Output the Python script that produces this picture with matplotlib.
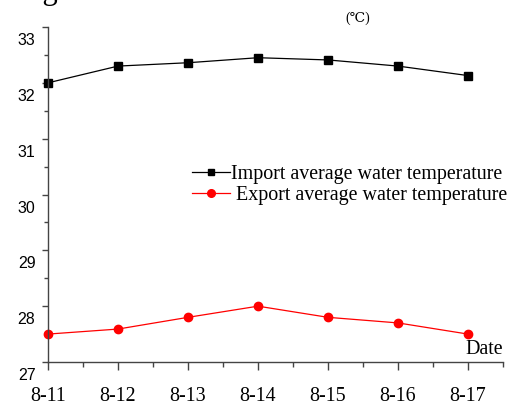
import numpy as np
import matplotlib.pyplot as plt
from matplotlib.transforms import ScaledTranslation
from matplotlib.ticker import MultipleLocator
from matplotlib.lines import Line2D

dates = ["8-11", "8-12", "8-13", "8-14", "8-15", "8-16", "8-17"]
import_temp = [32.0, 32.3, 32.36, 32.45, 32.41, 32.3, 32.13]
export_temp = [27.5, 27.59, 27.8, 28.0, 27.8, 27.7, 27.5]
y_ticks = [27, 28, 29, 30, 31, 32, 33]

serif = ["Liberation Serif", "DejaVu Serif"]
sans = ["Liberation Sans", "DejaVu Sans"]

fig = plt.figure(figsize=(5.17, 4.05), dpi=100)
ax = fig.add_axes([48 / 517, 43 / 405, 455 / 517, 335 / 405])

x = np.arange(len(dates))
ax.plot(x, import_temp, color="black", lw=0.9, marker="s", ms=5.5,
        mec="black", mfc="black", clip_on=False)
ax.plot(x, export_temp, color="red", lw=0.9, marker="o", ms=6,
        mec="red", mfc="red", clip_on=False)

ax.set_xlim(0, 6.5)
ax.set_ylim(27, 33)
ax.spines["top"].set_visible(False)
ax.spines["right"].set_visible(False)
for s in ("left", "bottom"):
    ax.spines[s].set_linewidth(1.0)
    ax.spines[s].set_color("#444444")

ax.set_xticks(x)
ax.set_xticklabels(dates, fontfamily=serif, fontsize=14.4)
ax.xaxis.set_minor_locator(MultipleLocator(0.5))
ax.set_yticks(y_ticks)
ax.set_yticklabels([str(v) for v in y_ticks], fontfamily=sans, fontsize=11.5)
ax.yaxis.set_minor_locator(MultipleLocator(0.5))
ax.tick_params(axis="x", which="major", length=6, width=1, pad=12, color="#444444")
ax.tick_params(axis="x", which="minor", length=3.5, width=1, color="#444444")
ax.tick_params(axis="y", which="major", length=4, width=1, pad=5, color="#444444")
ax.tick_params(axis="y", which="minor", length=3, width=1, color="#444444")

# y labels sit a little below their ticks
shift = ScaledTranslation(0, -12 / 100, fig.dpi_scale_trans)
for lab in ax.get_yticklabels():
    lab.set_transform(lab.get_transform() + shift)

ax.text(6.5, 27.22, "Date", fontfamily=serif, fontsize=14.4,
        ha="right", va="center")
fig.text(358 / 517, 1 - 18 / 405, "(\u2103)", fontfamily=serif, fontsize=10,
         ha="center", va="center")
fig.text(17 / 517, 1 + 1 / 405, "Fig. 6", fontfamily=serif, fontsize=22,
         ha="left", va="baseline")

handles = [
    Line2D([], [], color="black", lw=0.9, marker="s", ms=5, mfc="black"),
    Line2D([], [], color="red", lw=0.9, marker="o", ms=5.5, mfc="red"),
]
ax.legend(handles, ["Import average water temperature",
                    " Export average water temperature"],
          loc="center left", bbox_to_anchor=(144 / 455, 1 - 158 / 335),
          frameon=False, handlelength=1.9, handletextpad=0.05,
          labelspacing=0.08, borderaxespad=0, borderpad=0,
          prop={"family": serif, "size": 14.4})

fig.savefig("out.png", dpi=100)
